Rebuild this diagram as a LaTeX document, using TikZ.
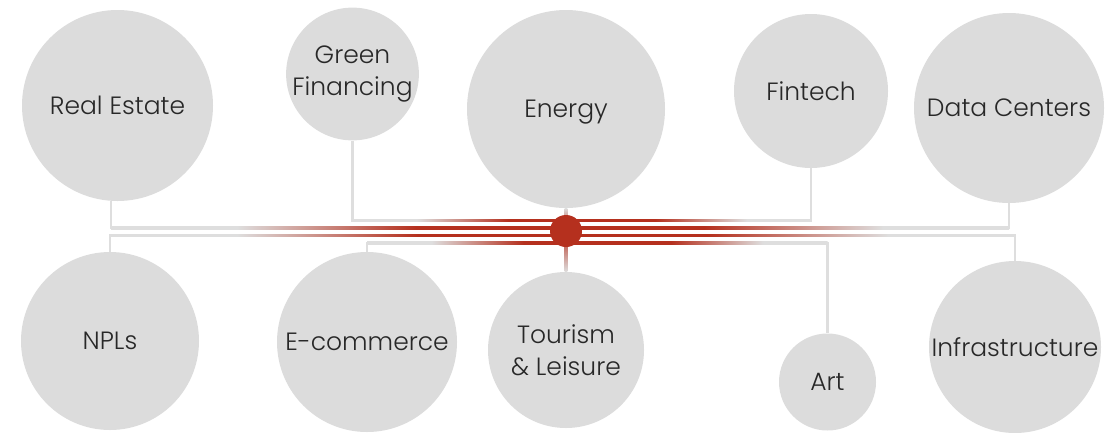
\documentclass[tikz,border=0pt]{standalone}
\usepackage{fontspec}
\setmainfont{Poppins}[UprightFont=* Light]
\usetikzlibrary{calc}
\definecolor{cfill}{RGB}{220,220,220}
\definecolor{lg}{RGB}{222,222,222}
\definecolor{rd}{RGB}{181,48,30}
\definecolor{txt}{RGB}{40,40,40}
\pgfdeclarehorizontalshading{hfade}{100bp}{color(0bp)=(lg); color(32bp)=(lg); color(42bp)=(rd); color(58bp)=(rd); color(68bp)=(lg); color(100bp)=(lg)}
\tikzset{
  bub/.style={circle, fill=cfill, inner sep=0pt, align=center, text=txt,
     font=\fontsize{25}{32}\selectfont},
  conn/.style={draw=lg, line width=2.8pt},
}
\begin{document}
\begin{tikzpicture}[x=1pt,y=-1pt]
\useasboundingbox (0,0) rectangle (1113,432);
% circles
\node[bub, minimum size=191] (re) at (117.5,105.5) {Real Estate};
\node[bub, minimum size=122] (gf) at (352.5,74) {Green\\Financing};
\node[bub, minimum size=198, text depth=0pt] (en) at (566,109) {Energy};
\node[bub, minimum size=154] (ft) at (811,91) {Fintech};
\node[bub, minimum size=190] (dc) at (1009,108) {Data Centers};
\node[bub, minimum size=178] (npl) at (110,341) {NPLs};
\node[bub, minimum size=180] (ec) at (367,342) {E-commerce};
\node[bub, minimum size=156] (tl) at (566,350) {Tourism\\\& Leisure};
\node[bub, minimum size=97] (art) at (827.5,382) {Art};
\node[bub, minimum size=172] (inf) at (1015,347) {Infrastructure};
% line levels
\coordinate (L1) at (0,220.5);
\coordinate (L2) at (0,228);
\coordinate (L3) at (0,235.5);
\coordinate (L4) at (0,243);
\coordinate (hubc) at (566,231);
% grey connectors
\draw[conn] (gf.south) |- (ft.south |- L1) -- (ft.south);
\draw[conn] ([xshift=-6.5]re.south) |- (dc.south |- L2) -- (dc.south);
\draw[conn] (npl.north) |- (inf.north |- L3) -- (inf.north);
\draw[conn] (ec.north) |- (art.north |- L4) -- (art.north);
\draw[conn] (en.south) -- (hubc);
\draw[conn] (hubc) -- (tl.north);
% red fades
\shade[shading=hfade] ($(gf.south |- L1)+(0,-1.4)$) rectangle ($(ft.south |- L1)+(0,1.4)$);
\shade[shading=hfade] ($([xshift=-6.5]re.south |- L2)+(0,-1.4)$) rectangle ($(dc.south |- L2)+(0,1.4)$);
\shade[shading=hfade] ($(npl.north |- L3)+(0,-1.4)$) rectangle ($(inf.north |- L3)+(0,1.4)$);
\shade[shading=hfade] ($(ec.north |- L4)+(0,-1.4)$) rectangle ($(art.north |- L4)+(0,1.4)$);
\shade[top color=lg, bottom color=rd] ($(en.south)+(-1.4,0)$) rectangle ($(hubc)+(1.4,0)$);
\shade[top color=rd, bottom color=lg] ($(hubc)+(-1.4,0)$) rectangle ($(tl.north)+(1.4,0)$);
% hub
\node[circle, fill=rd, minimum size=32, inner sep=0pt] (hub) at (hubc) {};
\end{tikzpicture}
\end{document}
